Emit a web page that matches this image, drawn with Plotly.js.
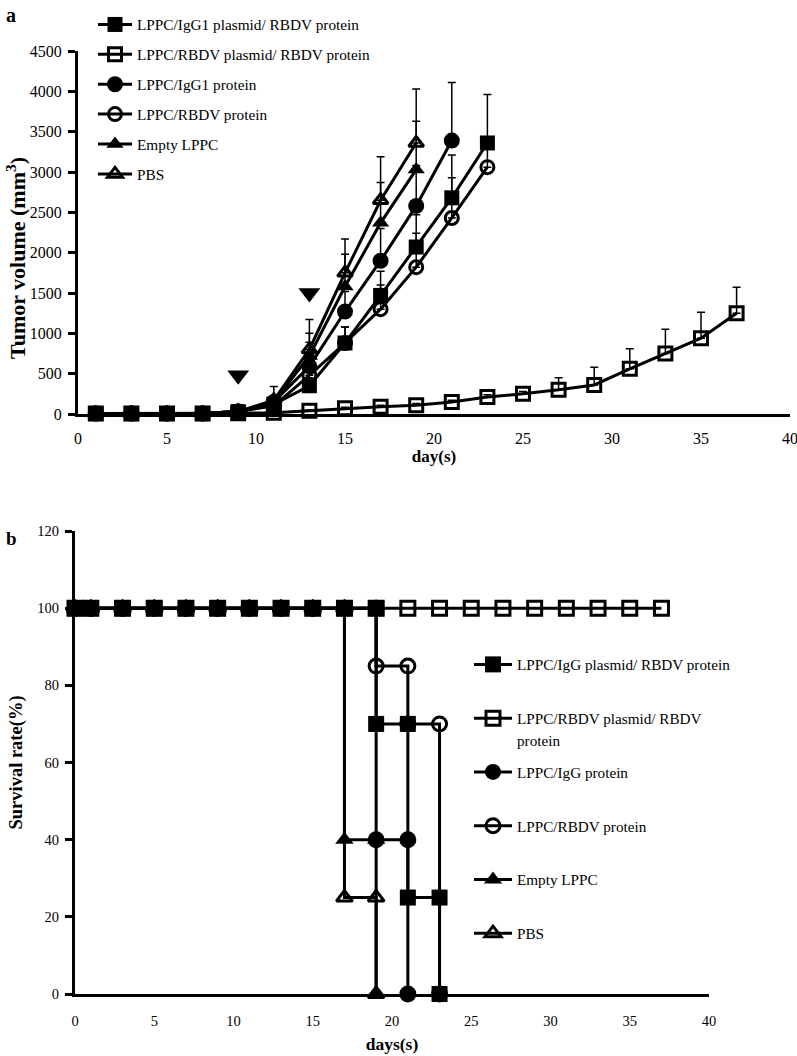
<!DOCTYPE html>
<html><head><meta charset="utf-8">
<script src="https://cdn.plot.ly/plotly-3.0.1.min.js"></script>
<style>html,body{margin:0;padding:0;background:#fff}</style>
</head><body><div id="chart" style="width:797px;height:1056px"></div>
<script>
// ---------- Panel a: tumor volume (mm3) ----------
const daysA = [1,3,5,7,9,11,13,15,17,19,21,23,25,27,29,31,33,35,37];
const volIgGPlasmid  = [5,5,5,5,30,120,350,880,1470,2070,2680,3360];
const errIgGPlasmid  = [0,0,0,0,10,40,100,200,300,400,530,600];
const volRBDVPlasmid = [5,5,5,5,10,15,40,70,90,110,150,210,250,300,360,560,750,940,1250];
const errRBDVPlasmid = [0,0,0,0,5,5,10,15,20,20,20,30,30,150,220,250,300,320,320];
const volIgGProtein  = [5,5,5,5,30,150,590,1270,1900,2580,3390];
const errIgGProtein  = [0,0,0,0,10,50,300,250,400,500,720];
const volRBDVProtein = [5,5,5,5,30,100,480,880,1300,1820,2430,3060];
const errRBDVProtein = [0,0,0,0,10,40,200,200,300,420,500,300];
const volEmpty       = [5,5,5,5,30,150,720,1580,2370,3030];
const errEmpty       = [0,0,0,0,10,60,280,400,500,600];
const volPBS         = [5,5,5,5,30,170,800,1750,2650,3360];
const errPBS         = [0,0,0,0,10,170,370,420,540,670];
const injectionDays  = [9,13];
const injectionMarkY = [480,1500];
const namesA = ["LPPC/IgG1 plasmid/ RBDV protein","LPPC/RBDV plasmid/ RBDV protein","LPPC/IgG1 protein","LPPC/RBDV protein","Empty LPPC","PBS"];
const titleYA = "Tumor volume (mm<sup>3</sup>)";

// ---------- Panel b: survival rate (%) ----------
const sqFilledDays = [0,1,3,5,7,9,11,13,15,17,19,19,21,21,23,23];
const sqFilledSurv = [100,100,100,100,100,100,100,100,100,100,100,70,70,25,25,0];
const sqOpenDays   = [0,1,3,5,7,9,11,13,15,17,19,21,23,25,27,29,31,33,35,37];
const sqOpenSurv   = [100,100,100,100,100,100,100,100,100,100,100,100,100,100,100,100,100,100,100,100];
const ciFilledDays = [0,1,3,5,7,9,11,13,15,17,19,19,21,21];
const ciFilledSurv = [100,100,100,100,100,100,100,100,100,100,100,40,40,0];
const ciOpenDays   = [0,1,3,5,7,9,11,13,15,17,19,19,21,21,23,23];
const ciOpenSurv   = [100,100,100,100,100,100,100,100,100,100,100,85,85,70,70,0];
const trFilledDays = [0,1,3,5,7,9,11,13,15,17,17,19,19];
const trFilledSurv = [100,100,100,100,100,100,100,100,100,100,40,40,0];
const trOpenDays   = [0,1,3,5,7,9,11,13,15,17,17,19,19];
const trOpenSurv   = [100,100,100,100,100,100,100,100,100,100,25,25,0];
const namesB = ["LPPC/IgG plasmid/ RBDV protein","LPPC/RBDV plasmid/ RBDV","LPPC/IgG protein","LPPC/RBDV protein","Empty LPPC","PBS"];
const namesBExtra = "protein";

const W = 797, H = 1056;
const px = v => v / W;
const py = v => 1 - v / H;
const SERIF = "Liberation Serif, Times New Roman, serif";
const K = "#000";

const styles = [
  {symbol:"square", size:15, lw:0},
  {symbol:"square-open", size:13, lw:3},
  {symbol:"circle", size:16, lw:0},
  {symbol:"circle-open", size:13, lw:3},
  {symbol:"triangle-up", size:15, lw:0},
  {symbol:"triangle-up-open", size:13, lw:3}
];

function topTrace(i, vals, errs, name) {
  const s = styles[i];
  return {
    type:"scatter", mode:"lines+markers", name:name, x:daysA.slice(0, vals.length), y:vals,
    xaxis:"x", yaxis:"y", legend:"legend", legendgroup:"a"+i, legendrank:i+1, cliponaxis:false,
    line:{color:K, width:3},
    marker:{symbol:s.symbol, size:s.size, color:K, line:{color:K, width:s.lw}},
    error_y:{type:"data", symmetric:false, array:errs, arrayminus:errs.map(()=>0), color:K, thickness:1.5, width:4}
  };
}
function botTrace(i, xs, ys, name) {
  const s = styles[i];
  return {
    type:"scatter", mode:"lines+markers", name:name, x:xs, y:ys,
    xaxis:"x2", yaxis:"y2", legend:"legend2", legendgroup:"b"+i, legendrank:i+1, cliponaxis:false,
    line:{color:K, width:3},
    marker:{symbol:s.symbol, size:s.size+1, color:K, line:{color:K, width:s.lw}}
  };
}

const data = [
  topTrace(5, volPBS, errPBS, namesA[5]),
  topTrace(4, volEmpty, errEmpty, namesA[4]),
  topTrace(3, volRBDVProtein, errRBDVProtein, namesA[3]),
  topTrace(2, volIgGProtein, errIgGProtein, namesA[2]),
  topTrace(1, volRBDVPlasmid, errRBDVPlasmid, namesA[1]),
  topTrace(0, volIgGPlasmid, errIgGPlasmid, namesA[0]),
  {type:"scatter", mode:"markers", x:injectionDays, y:injectionMarkY, xaxis:"x", yaxis:"y",
   showlegend:false, cliponaxis:false, marker:{symbol:"triangle-down", size:19, color:K}},
  botTrace(1, sqOpenDays, sqOpenSurv, namesB[1]),
  botTrace(3, ciOpenDays, ciOpenSurv, namesB[3]),
  botTrace(5, trOpenDays, trOpenSurv, namesB[5]),
  botTrace(4, trFilledDays, trFilledSurv, namesB[4]),
  botTrace(2, ciFilledDays, ciFilledSurv, namesB[2]),
  botTrace(0, sqFilledDays, sqFilledSurv, namesB[0])
];

const axCommon = {showline:true, linewidth:3, linecolor:K, showgrid:false, zeroline:false, automargin:false};
const layout = {
  width:W, height:H, margin:{l:0,r:0,t:0,b:0}, paper_bgcolor:"#fff", plot_bgcolor:"rgba(0,0,0,0)",
  font:{family:SERIF, color:K},
  xaxis: Object.assign({}, axCommon, {domain:[px(78), px(790)], range:[0,40], tick0:0, dtick:5, ticks:"",
    ticklabelstandoff:8, ticklabeloverflow:"allow", tickfont:{family:SERIF, size:16, color:K}, anchor:"y",
    title:{text:"day(s)", standoff:4, font:{family:SERIF, size:17, weight:"bold", color:K}}}),
  yaxis: Object.assign({}, axCommon, {domain:[py(414), py(51)], range:[0,4500], tick0:0, dtick:500,
    ticks:"outside", ticklen:7, tickwidth:3, tickcolor:K, ticklabelstandoff:3, anchor:"x",
    tickfont:{family:SERIF, size:16, color:K}}),
  xaxis2: Object.assign({}, axCommon, {domain:[px(75), px(709)], range:[0,40], tick0:0, dtick:5, ticks:"",
    ticklabelstandoff:12, tickfont:{family:SERIF, size:14.5, color:K}, anchor:"y2",
    title:{text:"days(s)", standoff:10, font:{family:SERIF, size:17.5, weight:"bold", color:K}}}),
  yaxis2: Object.assign({}, axCommon, {domain:[py(994), py(531)], range:[0,120], tick0:0, dtick:20,
    ticks:"outside", ticklen:7, tickwidth:3, tickcolor:K, ticklabelstandoff:3, anchor:"x2",
    tickfont:{family:SERIF, size:14.5, color:K},
    title:{text:"Survival rate(%)", standoff:10, font:{family:SERIF, size:18.5, weight:"bold", color:K}}}),
  legend:{x:px(93), xanchor:"left", y:py(8), yanchor:"top", bgcolor:"rgba(0,0,0,0)", borderwidth:0,
    traceorder:"grouped", tracegroupgap:7, itemsizing:"trace", itemwidth:34,
    font:{family:SERIF, size:15.3, color:K}},
  legend2:{x:px(469), xanchor:"left", y:py(648), yanchor:"top", bgcolor:"rgba(0,0,0,0)", borderwidth:0,
    traceorder:"grouped", tracegroupgap:31, itemsizing:"trace", itemwidth:38,
    font:{family:SERIF, size:15.2, color:K}},
  annotations:[
    {text:"a", xref:"paper", yref:"paper", x:px(4), y:py(15), xanchor:"left", yanchor:"middle", showarrow:false,
     font:{family:SERIF, size:20, weight:"bold", color:K}},
    {text:"b", xref:"paper", yref:"paper", x:px(4), y:py(538), xanchor:"left", yanchor:"middle", showarrow:false,
     font:{family:SERIF, size:19, weight:"bold", color:K}},
    {text:titleYA, xref:"paper", yref:"paper", x:px(16), y:py(258), xanchor:"center", yanchor:"middle",
     textangle:-90, showarrow:false, font:{family:SERIF, size:22, weight:"bold", color:K}},
    {text:namesBExtra, xref:"paper", yref:"paper", x:px(515), y:py(740), xanchor:"left", yanchor:"middle", showarrow:false,
     font:{family:SERIF, size:15.2, color:K}}
  ],
  showlegend:true
};

Plotly.newPlot("chart", data, layout, {displayModeBar:false, staticPlot:true});
</script></body></html>
